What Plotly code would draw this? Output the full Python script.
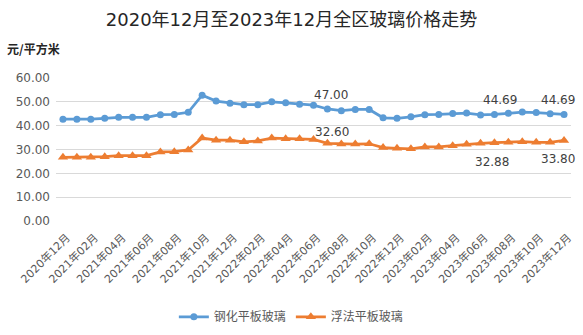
import plotly.graph_objects as go

# Monthly categories, Dec 2020 through Dec 2023
months = []
for y in (2020, 2021, 2022, 2023):
    for m in range(1, 13):
        if (y == 2020 and m < 12):
            continue
        months.append(f"{y}年{m:02d}月")

tempered = [42.7, 42.7, 42.7, 43.1, 43.5, 43.5, 43.5, 44.6, 44.7, 45.6,
            52.8, 50.3, 49.4, 48.8, 48.8, 50.0, 49.6, 49.0, 48.6, 47.00,
            46.3, 46.8, 46.8, 43.3, 43.1, 43.7, 44.6, 44.7, 45.1, 45.3,
            44.5, 44.69, 45.2, 45.7, 45.5, 45.0, 44.69]
float_glass = [26.7, 26.7, 26.7, 27.0, 27.4, 27.4, 27.4, 29.0, 29.1, 29.8,
               34.8, 33.9, 33.9, 33.2, 33.6, 34.8, 34.5, 34.5, 34.2, 32.60,
               32.3, 32.3, 32.4, 30.8, 30.5, 30.3, 31.1, 31.1, 31.6, 32.2,
               32.6, 32.88, 33.0, 33.3, 33.0, 33.0, 33.80]

series_names = ["钢化平板玻璃", "浮法平板玻璃"]
tick_labels = months[::2]
y_ticks = [0, 10, 20, 30, 40, 50, 60]

# Indices whose values are labelled on the chart
tempered_labelled = [19, 31, 36]
float_labelled = [19, 31, 36]

BLUE = "#5B9BD5"
ORANGE = "#ED7D31"
FONT = "DejaVu Sans, Noto Sans CJK SC, sans-serif"
CJK = "Noto Sans CJK SC, sans-serif"

fig = go.Figure()
fig.add_trace(go.Scatter(
    x=months, y=tempered, name=series_names[0], mode="lines+markers",
    line=dict(color=BLUE, width=2.75),
    marker=dict(symbol="circle", size=7, color=BLUE),
))
fig.add_trace(go.Scatter(
    x=months, y=float_glass, name=series_names[1], mode="lines+markers",
    line=dict(color=ORANGE, width=2.75),
    marker=dict(symbol="triangle-up", size=9, color=ORANGE),
))

# Value labels
label_font = dict(family=FONT, size=12, color="#404040")
t_shift = {19: (4, 14), 31: (6, 14), 36: (-6, 14)}
for i in tempered_labelled:
    dx, dy = t_shift[i]
    fig.add_annotation(x=months[i], y=tempered[i], text=f"{tempered[i]:.2f}",
                       showarrow=False, xshift=dx, yshift=dy, font=label_font)
f_shift = {19: (5, 11), 31: (-2, -19), 36: (-6, -19)}
for i in float_labelled:
    dx, dy = f_shift[i]
    fig.add_annotation(x=months[i], y=float_glass[i], text=f"{float_glass[i]:.2f}",
                       showarrow=False, xshift=dx, yshift=dy, font=label_font)

# Unit label above the value axis
fig.add_annotation(x=0, xref="paper", xanchor="left", xshift=-51,
                   y=1, yref="paper", yanchor="middle", yshift=30,
                   text="<b>元/平方米</b>", showarrow=False,
                   font=dict(family=CJK, size=12, color="#262626"))

fig.update_layout(
    width=583, height=335,
    margin=dict(l=56, r=12, t=78, b=114, autoexpand=False),
    paper_bgcolor="white", plot_bgcolor="white",
    title=dict(text="2020年12月至2023年12月全区玻璃价格走势",
               x=0.5, xanchor="center", y=0.94, yanchor="middle",
               font=dict(family=FONT, size=18, color="#262626")),
    xaxis=dict(type="category", categoryorder="array", categoryarray=months,
               range=[-0.5, len(months) - 0.5], automargin=False,
               tickmode="array", tickvals=tick_labels, ticktext=tick_labels,
               tickangle=-45, showgrid=False, showline=False, zeroline=False,
               ticks="", ticklabelstandoff=7, ticklabelshift=4,
               tickfont=dict(family=FONT, size=11, color="#595959")),
    yaxis=dict(range=[0, 60], tickvals=y_ticks, automargin=False,
               ticktext=[f"{v:.2f}" for v in y_ticks],
               showgrid=True, gridcolor="#D9D9D9", gridwidth=1,
               zeroline=False, showline=False, ticks="", ticklabelstandoff=5,
               tickfont=dict(family=FONT, size=12, color="#595959")),
    legend=dict(orientation="h", x=0.457, xanchor="center",
                y=-0.67, yanchor="middle",
                font=dict(family=CJK, size=12, color="#595959"),
                itemwidth=30),
    showlegend=True,
)

fig.write_html("out.html")
